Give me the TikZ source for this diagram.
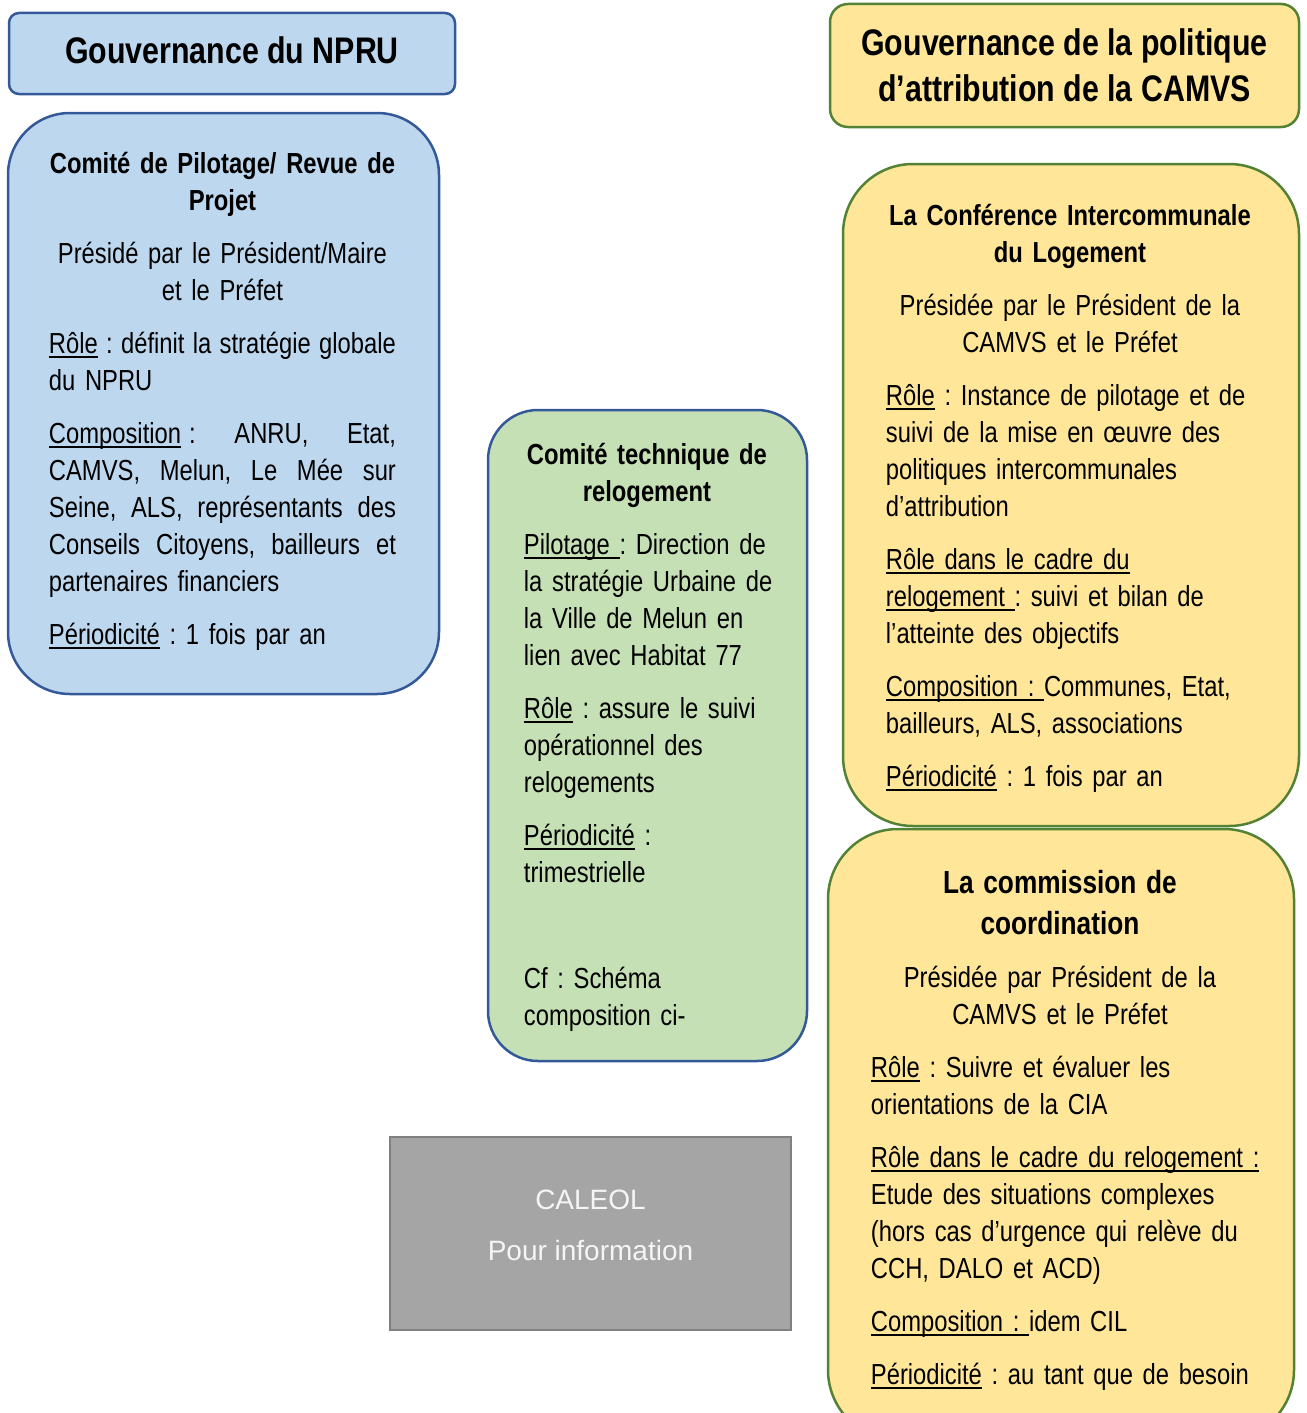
\documentclass[tikz,border=0pt]{standalone}
\usepackage{fontspec}
\setmainfont{Liberation Sans}[FakeStretch=0.82]
\newfontfamily\arialfont{Liberation Sans}
\usetikzlibrary{positioning}
\frenchspacing

\definecolor{bleuFond}{RGB}{189,215,238}
\definecolor{bleuTrait}{RGB}{52,89,152}
\definecolor{jauneFond}{RGB}{255,230,153}
\definecolor{vertTrait}{RGB}{84,130,53}
\definecolor{vertFond}{RGB}{197,224,180}
\definecolor{grisFond}{RGB}{165,165,165}
\definecolor{grisTrait}{RGB}{128,128,128}
\definecolor{blancCasse}{RGB}{245,245,245}

% underline that stays close to the baseline
\newcommand\souligne[1]{\leavevmode\setbox0\hbox{#1}\rlap{\rule[-0.13em]{\wd0}{0.065em}}\box0\relax}
% centred paragraph, leaving the 20pt of slack on the right
\newcommand\milieu{\centering\rightskip=20pt plus 1fil\relax}
% justified line of the left box
\newcommand\justifie[1]{\leavevmode\hbox to 347pt{\spaceskip=\fontdimen2\font plus 1fil\relax #1}}

\begin{document}
\begin{tikzpicture}[x=1pt,y=-1pt,
  cadre/.style={draw, line width=2.5pt, inner sep=0pt},
  bleu/.style={cadre, fill=bleuFond, draw=bleuTrait},
  jaune/.style={cadre, fill=jauneFond, draw=vertTrait},
  vert/.style={cadre, fill=vertFond, draw=bleuTrait},
  gris/.style={cadre, fill=grisFond, draw=grisTrait, line width=2pt},
  titre/.style={font=\fontsize{37}{46}\selectfont\bfseries, align=center},
  corps/.style={anchor=base west, inner sep=0pt, align=left,
    font=\fontsize{29}{37}\selectfont,
    execute at begin node=\setlength{\parskip}{16pt}\frenchspacing}]
\useasboundingbox (0,0) rectangle (1306,1413);

% titles
\node[bleu, rounded corners=10pt, minimum width=446pt, minimum height=81pt] (npru) at (232,53.5) {};
\node[titre] (npruTitre) at ([yshift=3pt]npru.center) {Gouvernance du NPRU};
\node[jaune, rounded corners=18pt, minimum width=469pt, minimum height=123pt] (camvs) at (1064.5,65.5) {};
\node[titre] (camvsTitre) at (camvs.center) {Gouvernance de la politique\\d’attribution de la CAMVS};

% comite de pilotage
\node[bleu, rounded corners=62pt, minimum width=431pt, minimum height=581pt] (pilotage) at (223.5,403.5) {};
\node[corps, text width=367pt] (pilotageTxt) at ([shift={(42,62)}]pilotage.north west) {%
{\bfseries\milieu Comité de Pilotage/ Revue de\\ Projet\par}
{\milieu Présidé par le Président/Maire\\ et le Préfet\par}
\justifie{\souligne{Rôle} : définit la stratégie globale}\\
du NPRU\par
\justifie{\souligne{Composition}\kern.28em: ANRU, Etat,}\\
\justifie{CAMVS, Melun, Le Mée sur}\\
\justifie{Seine, ALS, représentants des}\\
\justifie{Conseils Citoyens, bailleurs et}\\
partenaires financiers\par
\souligne{Périodicité} : 1 fois par an};

% comite technique
\node[vert, rounded corners=50pt, minimum width=319pt, minimum height=651pt] (technique) at (647.5,735.5) {};
\node[corps, text width=266pt] (techniqueTxt) at ([shift={(37,56)}]technique.north west) {%
{\bfseries\milieu Comité technique de\\ relogement\par}
\souligne{Pilotage\ }: Direction de\\ la stratégie Urbaine de\\ la Ville de Melun en\\ lien avec Habitat 77\par
\souligne{Rôle} : assure le suivi\\ opérationnel des\\ relogements\par
\souligne{Périodicité} :\\ trimestrielle\par
\mbox{}\par
Cf : Schéma\\ composition ci-};

% caleol
\node[gris, minimum width=401pt, minimum height=193pt] (caleol) at (590.5,1233.5) {};
\node[font=\arialfont\fontsize{28}{51}\selectfont, text=blancCasse, align=center] (caleolTxt) at ([yshift=8pt]caleol.center) {CALEOL\\Pour information};

% conference intercommunale
\node[jaune, rounded corners=70pt, minimum width=456pt, minimum height=662pt] (cil) at (1071,495) {};
\node[corps, text width=388pt] (cilTxt) at ([shift={(44,63)}]cil.north west) {%
{\bfseries\milieu La Conférence Intercommunale\\ du Logement\par}
{\milieu Présidée par le Président de la\\ CAMVS et le Préfet\par}
\souligne{Rôle} : Instance de pilotage et de\\ suivi de la mise en œuvre des\\ politiques intercommunales\\ d’attribution\par
\souligne{Rôle dans le cadre du}\\ \souligne{relogement\ }: suivi et bilan de\\ l’atteinte des objectifs\par
\souligne{Composition :\ }Communes, Etat,\\ bailleurs, ALS, associations\par
\souligne{Périodicité} : 1 fois par an};

% commission de coordination
\node[jaune, rounded corners=70pt, minimum width=466pt, minimum height=611pt] (coordination) at (1061,1134.5) {};
\node[corps, text width=398pt] (coordinationTxt) at ([shift={(44,66)}]coordination.north west) {%
{\fontsize{32}{41}\selectfont\bfseries\milieu La commission de\\ coordination\par}
{\milieu Présidée par Président de la\\ CAMVS et le Préfet\par}
\souligne{Rôle} : Suivre et évaluer les\\ orientations de la CIA\par
\souligne{Rôle dans le cadre du relogement :}\\ Etude des situations complexes\\ (hors cas d’urgence qui relève du\\ CCH, DALO et ACD)\par
\souligne{Composition :\ }idem CIL\par
\souligne{Périodicité} : au tant que de besoin};
\end{tikzpicture}
\end{document}
